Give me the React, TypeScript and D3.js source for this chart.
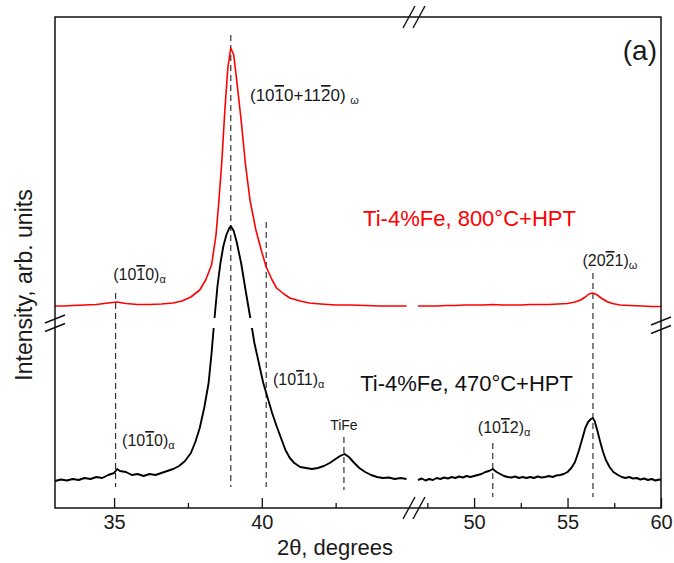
import React, { useEffect, useRef } from 'react';
import * as d3 from 'd3';

const W = 674;
const H = 563;
const FONT = '"Liberation Sans", Arial, Helvetica, sans-serif';

// x axis is broken: two 2θ segments
const leftDomain = [33, 45];
const rightDomain = [47, 60];
const majorLeft = [35, 40];
const majorRight = [50, 55, 60];
const minorLeft = [37.5, 42.5];
const minorRight = [47.5, 52.5, 57.5];

// y axis break (intensity band left out of the lower pattern)
const yBreak = [180, 190];

// [2θ, intensity]
const redLeft: [number, number][] = [
  [33.0, 202], [33.3, 202], [33.6, 202.5], [34.0, 203], [34.4, 203.5], [34.8, 205],
  [35.1, 206], [35.4, 204.5], [35.8, 203.5], [36.2, 203.5], [36.6, 204], [37.0, 205],
  [37.3, 207], [37.6, 211], [37.9, 218], [38.1, 228], [38.3, 243], [38.45, 273],
  [38.55, 308], [38.65, 348], [38.75, 398], [38.85, 440], [38.95, 460], [39.05, 453],
  [39.15, 428], [39.3, 388], [39.45, 343], [39.6, 308], [39.8, 278], [40.0, 256],
  [40.15, 241], [40.35, 228], [40.5, 220], [40.75, 214], [40.95, 210], [41.3, 207],
  [41.6, 205], [42.0, 204], [42.5, 203], [43.0, 203], [43.5, 202.5], [44.0, 202],
  [44.5, 202], [44.9, 202],
];
const redRight: [number, number][] = [
  [47.0, 202], [47.5, 202], [48.0, 202], [48.5, 202.5], [49.0, 202.5], [49.5, 203],
  [50.0, 203], [50.5, 203], [51.0, 203.5], [51.5, 203], [52.0, 203], [52.5, 203],
  [53.0, 203.5], [53.5, 203.5], [54.0, 203.5], [54.5, 204], [55.0, 204.5], [55.4, 206],
  [55.7, 208], [55.95, 211], [56.15, 214], [56.35, 215], [56.55, 213.5], [56.8, 210],
  [57.1, 206.5], [57.4, 204.5], [57.8, 203], [58.3, 202.5], [59.0, 202], [59.5, 201.5],
  [60.0, 201.5],
];
const blackLeft: [number, number][] = [
  [33.0, 27], [33.2, 28.5], [33.4, 27.5], [33.6, 29], [33.8, 28], [34.0, 30], [34.2, 29],
  [34.4, 31], [34.6, 30], [34.8, 33], [35.0, 35], [35.1, 39], [35.2, 37], [35.4, 36],
  [35.6, 33], [35.8, 34], [36.0, 32], [36.2, 34], [36.4, 33], [36.6, 35], [36.8, 37],
  [37.0, 39], [37.2, 42], [37.4, 47], [37.6, 55], [37.75, 66], [37.9, 80], [38.05, 100],
  [38.2, 125], [38.3, 155], [38.4, 190], [38.5, 222], [38.6, 245], [38.7, 262],
  [38.8, 273], [38.9, 280], [38.95, 282], [39.05, 277], [39.15, 266], [39.3, 245],
  [39.45, 218], [39.6, 192], [39.75, 165], [39.9, 145], [40.05, 125], [40.2, 110],
  [40.35, 95], [40.5, 82], [40.65, 70], [40.8, 58], [40.95, 50], [41.1, 45], [41.3, 41],
  [41.5, 40], [41.7, 39], [41.9, 40], [42.1, 42], [42.3, 45], [42.5, 49], [42.65, 52],
  [42.8, 54], [42.95, 51], [43.1, 46], [43.3, 40], [43.5, 36], [43.7, 33], [43.9, 31],
  [44.1, 30], [44.3, 30.5], [44.5, 29], [44.7, 30], [44.9, 29],
];
const blackRight: [number, number][] = [
  [47.0, 28], [47.2, 29.5], [47.4, 27.5], [47.6, 29], [47.8, 28], [48.0, 30], [48.2, 29],
  [48.4, 30.5], [48.6, 29.5], [48.8, 31], [49.0, 30], [49.2, 31.5], [49.4, 30.5],
  [49.6, 32], [49.8, 31], [50.0, 32], [50.2, 33], [50.4, 34], [50.6, 36], [50.8, 37],
  [51.0, 39], [51.2, 36], [51.4, 34], [51.6, 32], [51.8, 31], [52.0, 30.5], [52.2, 31.5],
  [52.4, 30], [52.6, 31], [52.8, 30], [53.0, 31], [53.2, 30], [53.4, 31.5], [53.6, 30.5],
  [53.8, 31], [54.0, 32], [54.2, 31], [54.4, 32.5], [54.6, 33], [54.8, 34], [55.0, 36],
  [55.2, 40], [55.4, 46], [55.6, 57], [55.8, 70], [55.95, 80], [56.1, 86], [56.25, 89],
  [56.35, 90], [56.45, 87], [56.6, 77], [56.75, 66], [56.9, 56], [57.05, 48], [57.25, 41],
  [57.45, 36], [57.7, 33], [57.9, 31], [58.1, 30], [58.3, 31], [58.5, 29.5], [58.7, 30],
  [58.9, 28.5], [59.1, 29.5], [59.3, 28], [59.5, 29], [59.7, 27.5], [59.9, 28.5], [60.0, 28],
];

// dashed reflection markers: 2θ, top intensity, bottom intensity
const markers: [number, number, number][] = [
  [35.05, 215, 21],
  [38.95, 473, 21],
  [40.15, 286, 21],
  [42.78, 71, 18],
  [51.0, 65, 11],
  [56.36, 235, 11],
];

type Part = { t: string; bar?: boolean; sub?: boolean };
const peakLabels: { at: [number, number]; size: number; anchor?: string; parts: Part[] }[] = [
  { at: [39.6, 407], size: 17, parts: [{ t: '(10' }, { t: '1', bar: true }, { t: '0+11' }, { t: '2', bar: true }, { t: '0) ' }, { t: 'ω', sub: true }] },
  { at: [34.97, 228], size: 16, parts: [{ t: '(10' }, { t: '1', bar: true }, { t: '0)' }, { t: 'α', sub: true }] },
  { at: [55.8, 242], size: 16, parts: [{ t: '(20' }, { t: '2', bar: true }, { t: '1)' }, { t: 'ω', sub: true }] },
  { at: [40.38, 123], size: 16, parts: [{ t: '(10' }, { t: '1', bar: true }, { t: '1)' }, { t: 'α', sub: true }] },
  { at: [35.27, 62], size: 16, parts: [{ t: '(10' }, { t: '1', bar: true }, { t: '0)' }, { t: 'α', sub: true }] },
  { at: [42.78, 78], size: 14, anchor: 'middle', parts: [{ t: 'TiFe' }] },
  { at: [50.2, 75], size: 16, parts: [{ t: '(10' }, { t: '1', bar: true }, { t: '2)' }, { t: 'α', sub: true }] },
];

const seriesLabels: { at: [number, number]; text: string; color: string }[] = [
  { at: [43.43, 282], text: 'Ti-4%Fe, 800°C+HPT', color: '#ff0000' },
  { at: [43.33, 117], text: 'Ti-4%Fe, 470°C+HPT', color: '#111' },
];

export default function App() {
  const axisRef = useRef<SVGGElement>(null);

  const plot = { left: 55, right: 661, top: 17, bottom: 508 };
  const xL = d3.scaleLinear().domain(leftDomain).range([plot.left, 409.5]);
  const xR = d3.scaleLinear().domain(rightDomain).range([418, plot.right]);
  const px = (a: number) => (a <= 46 ? xL(a) : xR(a));
  const y = d3.scaleLinear().domain([0, 491]).range([plot.bottom, plot.top]);

  const line = d3.line<[number, number]>().x(d => px(d[0])).y(d => y(d[1]));

  useEffect(() => {
    const g = d3.select(axisRef.current);
    g.selectAll('*').remove();
    const add = (scale: any, vals: number[], size: number, labels: boolean) => {
      const ax = d3.axisBottom(scale).tickValues(vals).tickSize(-size).tickPadding(7);
      if (!labels) ax.tickFormat(() => '');
      const a = g.append('g').attr('transform', `translate(0,${plot.bottom})`).call(ax as any);
      a.select('.domain').remove();
      a.selectAll('line').attr('stroke', '#111').attr('stroke-width', 1.3);
      a.selectAll('text').attr('font-family', FONT).attr('font-size', 20).attr('fill', '#1a1a1a');
    };
    add(xL, majorLeft, 10, true);
    add(xR, majorRight, 10, true);
    add(xL, minorLeft, 5, false);
    add(xR, minorRight, 5, false);
  }, []);

  const breakCx = 414;
  const slash = (cx: number, cy: number, dx: number, dy: number, off: number, key: string) => (
    <g key={key} stroke="#111" strokeWidth={1.4}>
      <line x1={cx - dx - off} y1={cy + dy} x2={cx + dx - off} y2={cy - dy} />
      <line x1={cx - dx + off} y1={cy + dy} x2={cx + dx + off} y2={cy - dy} />
    </g>
  );
  const hSlash = (cx: number, cy: number, key: string) => (
    <g key={key} stroke="#111" strokeWidth={1.4}>
      <line x1={cx - 10} y1={cy + 4} x2={cx + 10} y2={cy - 4} />
      <line x1={cx - 10} y1={cy + 12.5} x2={cx + 10} y2={cy + 4.5} />
    </g>
  );

  const yb0 = y(yBreak[1]);
  const yb1 = y(yBreak[0]);

  return (
    <svg width={W} height={H} style={{ position: 'absolute', left: 0, top: 0, background: '#fff' }} fontFamily={FONT}>
      <defs>
        <clipPath id="blackClip">
          <rect x={0} y={0} width={W} height={yb0} />
          <rect x={0} y={yb1} width={W} height={H - yb1} />
        </clipPath>
      </defs>

      {markers.map(([a, t, b], i) => (
        <line key={i} x1={px(a)} x2={px(a)} y1={y(t)} y2={y(b)} stroke="#333" strokeWidth={1.2} strokeDasharray="6,4" />
      ))}

      <g fill="none" strokeLinejoin="round">
        <path d={line(redLeft) || ''} stroke="#ff0000" strokeWidth={1.6} />
        <path d={line(redRight) || ''} stroke="#ff0000" strokeWidth={1.6} />
        <g clipPath="url(#blackClip)">
          <path d={line(blackLeft) || ''} stroke="#000" strokeWidth={1.9} />
          <path d={line(blackRight) || ''} stroke="#000" strokeWidth={1.9} />
        </g>
      </g>

      <rect x={plot.left} y={plot.top} width={plot.right - plot.left} height={plot.bottom - plot.top} fill="none" stroke="#111" strokeWidth={1.5} />
      <g ref={axisRef} />

      {slash(breakCx, plot.top, 6, 11, 5, 'bt')}
      {slash(breakCx, plot.bottom, 6, 11, 5, 'bb')}
      {hSlash(plot.left, 319, 'bl')}
      {hSlash(plot.right, 321, 'br')}

      {peakLabels.map((l, i) => (
        <text key={i} x={px(l.at[0])} y={y(l.at[1])} fontSize={l.size} fill="#1a1a1a" textAnchor={(l.anchor as any) || 'start'}>
          {l.parts.map((p, j) => (
            <tspan key={j} fontSize={p.sub ? 11 : undefined} dy={p.sub ? 3 : undefined} style={p.bar ? { textDecoration: 'overline' } : undefined}>
              {p.t}
            </tspan>
          ))}
        </text>
      ))}

      {seriesLabels.map((s, i) => (
        <text key={i} x={px(s.at[0])} y={y(s.at[1])} fontSize={22} fill={s.color}>{s.text}</text>
      ))}

      <text x={657} y={60} fontSize={28} textAnchor="end" fill="#1a1a1a">(a)</text>
      <text x={335} y={555} fontSize={22} textAnchor="middle" fill="#1a1a1a">2θ, degrees</text>
      <text transform={`translate(32,285) rotate(-90)`} fontSize={23} textAnchor="middle" fill="#1a1a1a">
        Intensity, arb. units
      </text>
    </svg>
  );
}
